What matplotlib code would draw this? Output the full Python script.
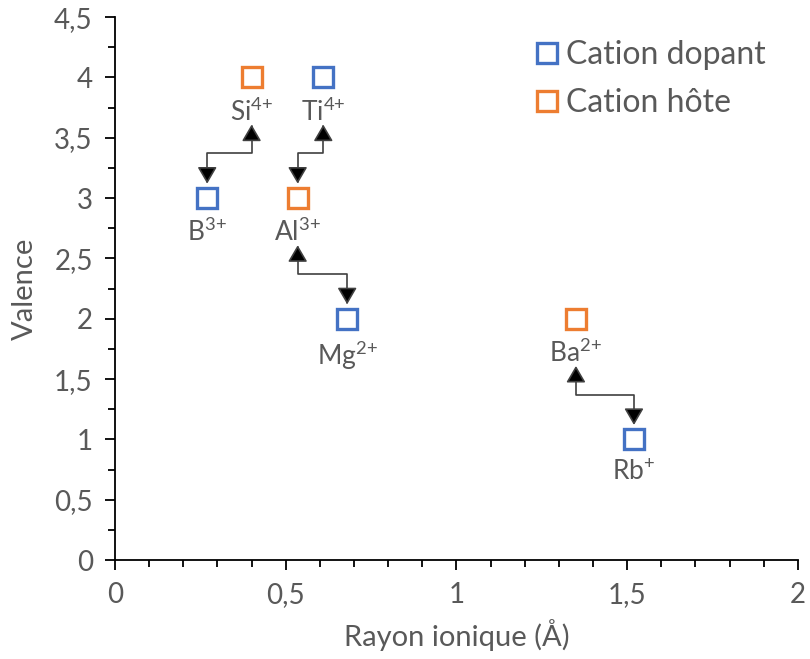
import matplotlib
matplotlib.use('Agg')
import matplotlib.pyplot as plt
from matplotlib.patches import FancyArrowPatch
from matplotlib.path import Path
from matplotlib.ticker import MultipleLocator, FuncFormatter

plt.rcParams['font.family'] = ['Lato', 'DejaVu Sans']
plt.rcParams['mathtext.fontset'] = 'custom'
plt.rcParams['mathtext.rm'] = 'Lato'
plt.rcParams['mathtext.it'] = 'Lato'

# data
dopant_names = ['B', 'Ti', 'Mg', 'Rb']
dopant_charge = ['3{+}', '4{+}', '2{+}', '{+}']
dopant_r = [0.27, 0.61, 0.68, 1.52]
dopant_v = [3, 4, 2, 1]

host_names = ['Si', 'Al', 'Ba']
host_charge = ['4{+}', '3{+}', '2{+}']
host_r = [0.40, 0.535, 1.35]
host_v = [4, 3, 2]

# substitutions: (host x, host y) -> (dopant x, dopant y)
pairs = [(0.40, 4, 0.27, 3),
         (0.61, 4, 0.535, 3),
         (0.535, 3, 0.68, 2),
         (1.35, 2, 1.52, 1)]

blue = '#4472C4'
orange = '#ED7D31'
grey = '#595959'

fig = plt.figure(figsize=(8.1, 6.59), dpi=100)
ax = fig.add_axes([0.142, 0.150, 0.843, 0.824])

ax.plot(dopant_r, dopant_v, 's', ms=14, mfc='white', mec=blue, mew=2.4,
        label='Cation dopant', zorder=3)
ax.plot(host_r, host_v, 's', ms=14, mfc='white', mec=orange, mew=2.4,
        label='Cation hôte', zorder=3)

for x, y, n, c in zip(dopant_r + host_r, dopant_v + host_v,
                      dopant_names + host_names, dopant_charge + host_charge):
    ax.text(x, y - 0.17, n + r'$^{' + c + '}$', ha='center', va='top',
            fontsize=19, color=grey)

for x0, y0, x1, y1 in pairs:
    top = y0 - 0.39
    mid = y0 - 0.63
    bot = y1 + 0.12
    path = Path([(x0, top), (x0, mid), (x1, mid), (x1, bot)])
    arr = FancyArrowPatch(path=path, arrowstyle='<|-|>,head_length=0.6,head_width=0.35',
                          mutation_scale=17, lw=1.2)
    arr.set_edgecolor('#404040')
    arr.set_facecolor('black')
    ax.add_patch(arr)

ax.set_xlim(0, 2)
ax.set_ylim(0, 4.5)
ax.xaxis.set_major_locator(MultipleLocator(0.5))
ax.xaxis.set_minor_locator(MultipleLocator(0.1))
ax.yaxis.set_major_locator(MultipleLocator(0.5))
ax.yaxis.set_minor_locator(MultipleLocator(0.25))
fmt = FuncFormatter(lambda v, p: ('%g' % v).replace('.', ','))
ax.xaxis.set_major_formatter(fmt)
ax.yaxis.set_major_formatter(fmt)

for s in ['top', 'right']:
    ax.spines[s].set_visible(False)
for s in ['left', 'bottom']:
    ax.spines[s].set_linewidth(1.3)
ax.tick_params(which='major', direction='out', length=7, width=1.3,
               labelsize=20, labelcolor=grey, pad=9)
ax.tick_params(which='minor', direction='out', length=5, width=1.3)

ax.set_xlabel('Rayon ionique (Å)', fontsize=21, color=grey, labelpad=8)
ax.set_ylabel('Valence', fontsize=21, color=grey, labelpad=12)

leg = ax.legend(loc='upper right', bbox_to_anchor=(0.995, 1.01), frameon=False,
                fontsize=23, handletextpad=0.15, handlelength=0.9,
                labelspacing=0.55, markerscale=1.0)
for t in leg.get_texts():
    t.set_color(grey)

fig.savefig('out.png', dpi=100)
